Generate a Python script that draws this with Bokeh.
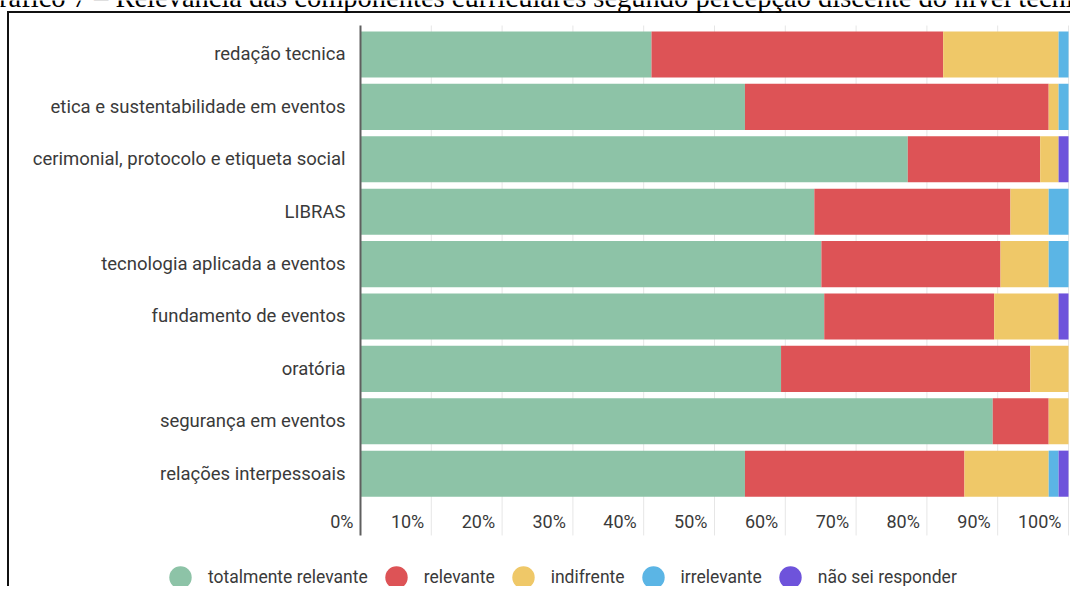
from bokeh.plotting import figure
from bokeh.models import ColumnDataSource, Range1d, Legend, LegendItem
from bokeh.core.properties import value
from bokeh.embed import file_html
from bokeh.resources import INLINE

# ---- data ----
title = "Gráfico 7 – Relevância das componentes curriculares segundo percepção discente do nível técnico"
categories = [
    "redação tecnica",
    "etica e sustentabilidade em eventos",
    "cerimonial, protocolo e etiqueta social",
    "LIBRAS",
    "tecnologia aplicada a eventos",
    "fundamento de eventos",
    "oratória",
    "segurança em eventos",
    "relações interpessoais",
]
series = ["totalmente relevante", "relevante", "indifrente", "irrelevante", "não sei responder"]
totalmente_relevante = [41.1, 54.3, 77.3, 64.1, 65.1, 65.5, 59.4, 89.3, 54.3]
relevante = [41.2, 42.9, 18.7, 27.7, 25.3, 24.0, 35.2, 7.9, 31.0]
indifrente = [16.3, 1.4, 2.6, 5.4, 6.8, 9.1, 5.4, 2.8, 11.9]
irrelevante = [1.4, 1.4, 0.0, 2.8, 2.8, 0.0, 0.0, 0.0, 1.4]
nao_sei_responder = [0.0, 0.0, 1.4, 0.0, 0.0, 1.4, 0.0, 0.0, 1.4]
x_ticks = [0, 10, 20, 30, 40, 50, 60, 70, 80, 90, 100]
tick_labels = ["0%", "10%", "20%", "30%", "40%", "50%", "60%", "70%", "80%", "90%", "100%"]

# ---- style ----
colors = ["#8DC3A7", "#DD5356", "#EFC868", "#5BB5E5", "#6E53DB"]
TEXT = "#3a3a3a"
FONT = "Roboto"

n = len(categories)
ypos = [n - 1 - i for i in range(n)]
keys = ["s0", "s1", "s2", "s3", "s4"]
source = ColumnDataSource(dict(
    y=ypos, cat=categories,
    s0=totalmente_relevante, s1=relevante, s2=indifrente, s3=irrelevante, s4=nao_sei_responder,
))

# frame covers the whole canvas; 0% sits at x=360px, 7.08 px per percent
X0, X1 = -50.847, 100.282
Y_TOP, Y_BOT = 9.0305, -2.153
GRID_TOP, GRID_BOT = 8.553, -1.179
p = figure(
    width=1070, height=586,
    x_range=Range1d(X0, X1), y_range=Range1d(Y_BOT, Y_TOP),
    output_backend="svg", toolbar_location=None, title=None,
    x_axis_location=None, y_axis_location=None,
    min_border=0, min_border_left=0, min_border_right=0, min_border_top=0, min_border_bottom=0,
)
p.border_fill_color = None
p.background_fill_color = None
p.outline_line_color = None
p.xgrid.visible = False
p.ygrid.visible = False
p.styles = {
    "background": "linear-gradient(#111,#111) 7px 11px / 100% 2px no-repeat, "
                  "linear-gradient(#111,#111) 7px 11px / 2px 100% no-repeat, #ffffff"
}

# partially visible caption above the box
p.text(x=[X0], y=[8.954], text=[title], x_offset=-22, y_offset=-7, text_align="left",
       text_baseline="alphabetic", text_font=value("Liberation Serif"),
       text_font_size="28.5px", text_color="#000000")

# vertical grid lines (10% .. 100%)
p.segment(x0=x_ticks[1:], y0=[GRID_BOT] * 10, x1=x_ticks[1:], y1=[GRID_TOP] * 10,
          line_color="#e6e6e6", line_width=1)

bars = p.hbar_stack(keys, y="y", height=0.88, color=colors, line_color=None, source=source)

# 0% axis line
p.segment(x0=[0], y0=[GRID_BOT], x1=[0], y1=[GRID_TOP], line_color="#5f5f5f", line_width=2)

# category labels
p.text(x=[0] * n, y=ypos, text=categories, x_offset=-15,
       text_align="right", text_baseline="middle",
       text_font=value(FONT), text_font_size="18.5px", text_color=TEXT)

# x tick labels, right-aligned against each grid line
p.text(x=x_ticks, y=[-0.912] * len(x_ticks), text=tick_labels,
       text_align="right", text_baseline="middle", x_offset=-7,
       text_font=value(FONT), text_font_size="18px", text_color=TEXT)

# legend with circle markers (legend-only renderers, their single point is NaN)
nan = float("nan")
dummies = [p.scatter([nan], [nan], marker="circle", color=c, line_color=None) for c in colors]
legend = Legend(
    items=[LegendItem(label=s, renderers=[r]) for s, r in zip(series, dummies)],
    orientation="horizontal", location=(152, -19),
    glyph_width=56, glyph_height=56, label_standoff=0, spacing=-5,
    padding=0, margin=0, border_line_color=None, background_fill_alpha=0,
    label_text_font=FONT, label_text_font_size="17.5px", label_text_color=TEXT,
)
p.add_layout(legend)

open("out.html", "w").write(file_html(p, INLINE))
